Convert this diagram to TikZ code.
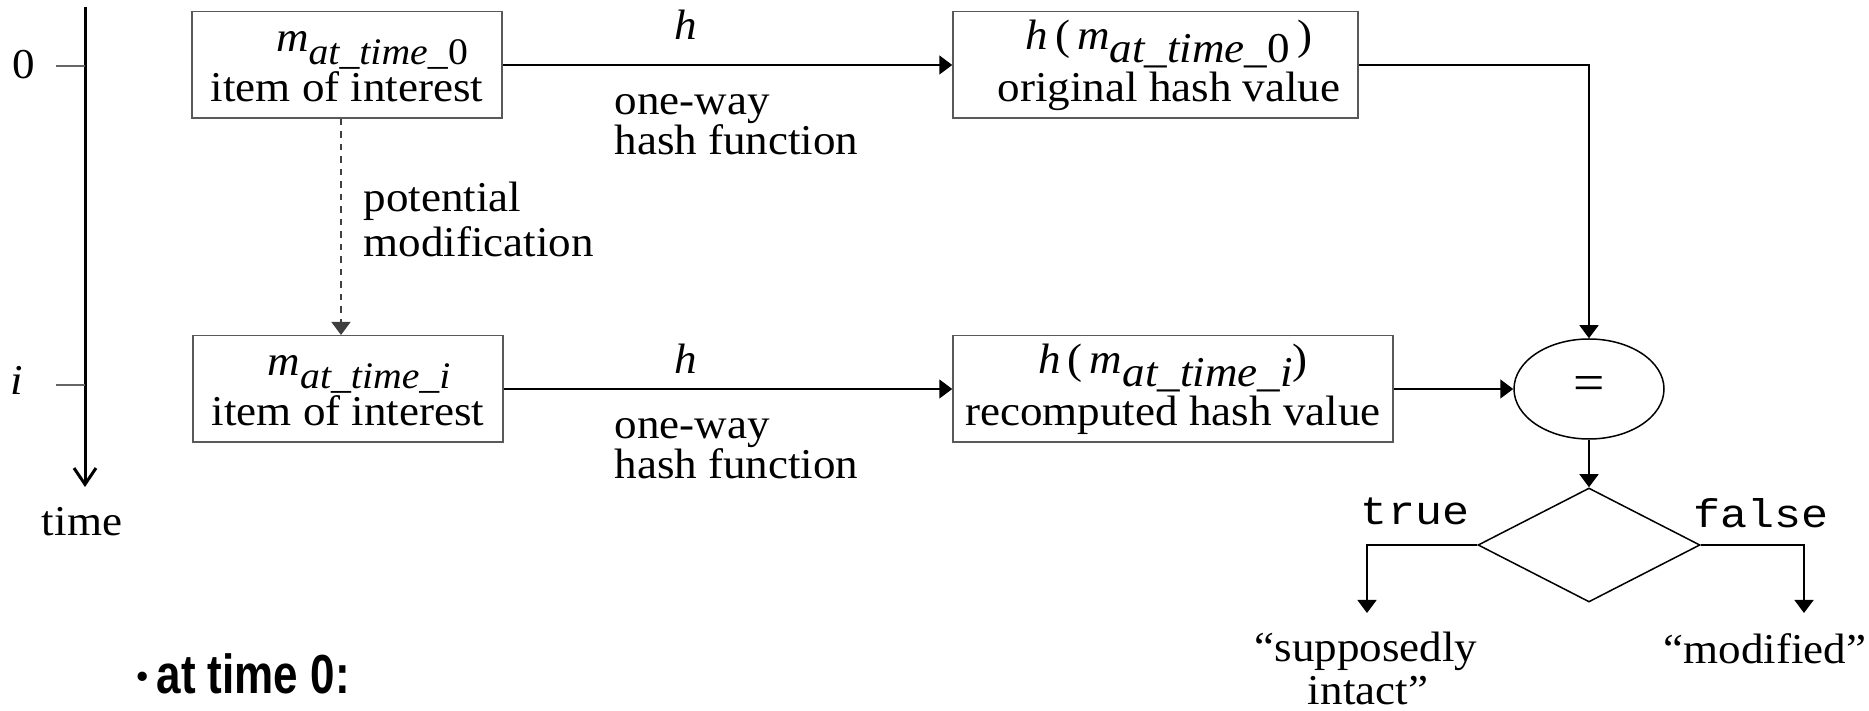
\documentclass[tikz,border=0pt]{standalone}
\usepackage{fontspec}
\setmainfont[FakeStretch=1.06]{Liberation Serif}
\newfontfamily\codefont[FakeStretch=1.125]{Liberation Mono}
\newfontfamily\headfont[FakeStretch=0.8]{Liberation Sans}
\newfontfamily\dotfont{Liberation Sans}
\usetikzlibrary{arrows.meta,shapes.geometric}

% subscript lowered without changing the line height
\newcommand\lowered[2]{\raisebox{-#1}[0pt][0pt]{#2}}
% slightly smaller subscript used in the item boxes
\newcommand\smallsub[1]{{\fontsize{15pt}{15pt}\selectfont #1}}
% invisible struts fixing the extent of two-line box texts
\newcommand\topstrut[1]{\rule{0pt}{#1}}
\newcommand\botstrut[1]{\rule[-#1]{0pt}{#1}}

\tikzset{
  basefont/.style={font=\fontsize{17pt}{16pt}\selectfont},
  lbl/.style={basefont, inner sep=0pt},
  codelbl/.style={inner sep=0pt, font=\codefont\fontsize{16pt}{16pt}\selectfont},
  itembox/.style={basefont, draw=black!65, line width=0.6pt, align=center,
    inner sep=0pt, minimum height=42.6pt},
  flow/.style={draw=black, line width=0.6pt, -{Triangle[length=5.2pt,width=7.6pt]}},
  maybeflow/.style={draw=black!75, line width=0.5pt, dash pattern=on 2.6pt off 2.4pt,
    -{Triangle[length=5.2pt,width=7.6pt]}},
  axisline/.style={draw=black, line width=1.2pt, -{Straight Barb[length=6.5pt,width=8.8pt]}},
  axistick/.style={draw=black!60, line width=0.5pt},
  decision/.style={draw=black, line width=0.6pt, inner sep=0pt},
}

\begin{document}
\begin{tikzpicture}[x=0.4pt,y=-0.4pt]
\useasboundingbox (0,0) rectangle (1869,711);

% time axis
\coordinate (axtop) at (85,7);
\coordinate (axbot) at (85,487);
\coordinate (tick0) at (56,66);
\coordinate (ticki) at (56,385);
\draw[axisline] (axtop) -- (axbot);
\draw[axistick] (tick0) -- (tick0 -| axtop);
\draw[axistick] (ticki) -- (ticki -| axtop);
\node[lbl, anchor=base] (t0) at (24,79) {0};
\node[lbl, anchor=base] (ti) at (17,395) {\textit{i}};
\node[lbl, anchor=base] (tlabel) at (82,536) {time};

% items and hash values
\node[itembox, minimum width=124pt] (box1) at (347,65)
  {\topstrut{12pt}\hspace*{20pt}\textit{m}\lowered{5pt}{\smallsub{\textit{at\_time\_}0}}\\[4pt]item of interest\botstrut{2.4pt}};
\node[itembox, minimum width=124pt] (box2) at (348,389)
  {\topstrut{12pt}\hspace*{8.8pt}\textit{m}\lowered{5pt}{\smallsub{\textit{at\_time\_i}}}\\[4pt]item of interest\botstrut{2.4pt}};
\node[itembox, minimum width=162pt] (box3) at (1155.5,65)
  {\topstrut{12pt}\hspace*{10.8pt}\textit{h}\,(\,\textit{m}\lowered{5.2pt}{\textit{at\_time\_}0}\,)\\[4.8pt]\hspace*{10.8pt}original hash value\botstrut{3.2pt}};
\node[itembox, minimum width=176pt] (box4) at (1173,389)
  {\topstrut{12pt}\textit{h}\,(\,\textit{m}\lowered{5.2pt}{\textit{at\_time\_i}})\\[4.8pt]recomputed hash value\botstrut{3.2pt}};

% comparison and decision
\node[decision, ellipse, minimum width=60pt, minimum height=40pt,
  font=\fontsize{21pt}{21pt}\selectfont] (eq) at (1589,389) {=};
\node[decision, diamond, minimum width=88.8pt, minimum height=45.6pt] (dec) at (1589,545) {};
\coordinate (tip1) at (1367,613);
\coordinate (tip2) at (1804,613);
\coordinate (modx) at (341,0);

% connectors
\draw[flow] (box1.east) -- (box3.west);
\draw[flow] (box2.east) -- (box4.west);
\draw[maybeflow] (box1.south -| modx) -- (box2.north -| modx);
\draw[flow] (box3.east) -| (eq.north);
\draw[flow] (box4.east) -- (eq.west);
\draw[flow] (eq.south) -- (dec.north);
\draw[flow] (dec.west) -| (tip1);
\draw[flow] (dec.east) -| (tip2);

% connector labels
\node[lbl, anchor=base] (hA) at (686,40) {\textit{h}};
\node[lbl, anchor=base west] (owA1) at (614,115) {one-way};
\node[lbl, anchor=base west] (owA2) at (614,155) {hash function};
\node[lbl, anchor=base] (hB) at (686,374) {\textit{h}};
\node[lbl, anchor=base west] (owB1) at (614,439) {one-way};
\node[lbl, anchor=base west] (owB2) at (614,479) {hash function};
\node[lbl, anchor=base west] (pm1) at (363,212) {potential};
\node[lbl, anchor=base west] (pm2) at (363,257) {modification};
\node[codelbl, anchor=base] (ttrue) at (1415,525) {true};
\node[codelbl, anchor=base] (tfalse) at (1761,528) {false};

% outcomes
\node[lbl, anchor=base] (ok1) at (1366,662) {“supposedly};
\node[lbl, anchor=base] (ok2) at (1368,705) {intact”};
\node[lbl, anchor=base] (mod) at (1765,664) {“modified”};

% bullet heading
\node[inner sep=0pt, anchor=base west, font=\headfont\bfseries\fontsize{22pt}{22pt}\selectfont] (head) at (136,694)
  {\raisebox{2.5pt}{\dotfont\fontsize{13pt}{13pt}\selectfont•}\hspace{3.5pt}at time 0:};
\end{tikzpicture}
\end{document}
